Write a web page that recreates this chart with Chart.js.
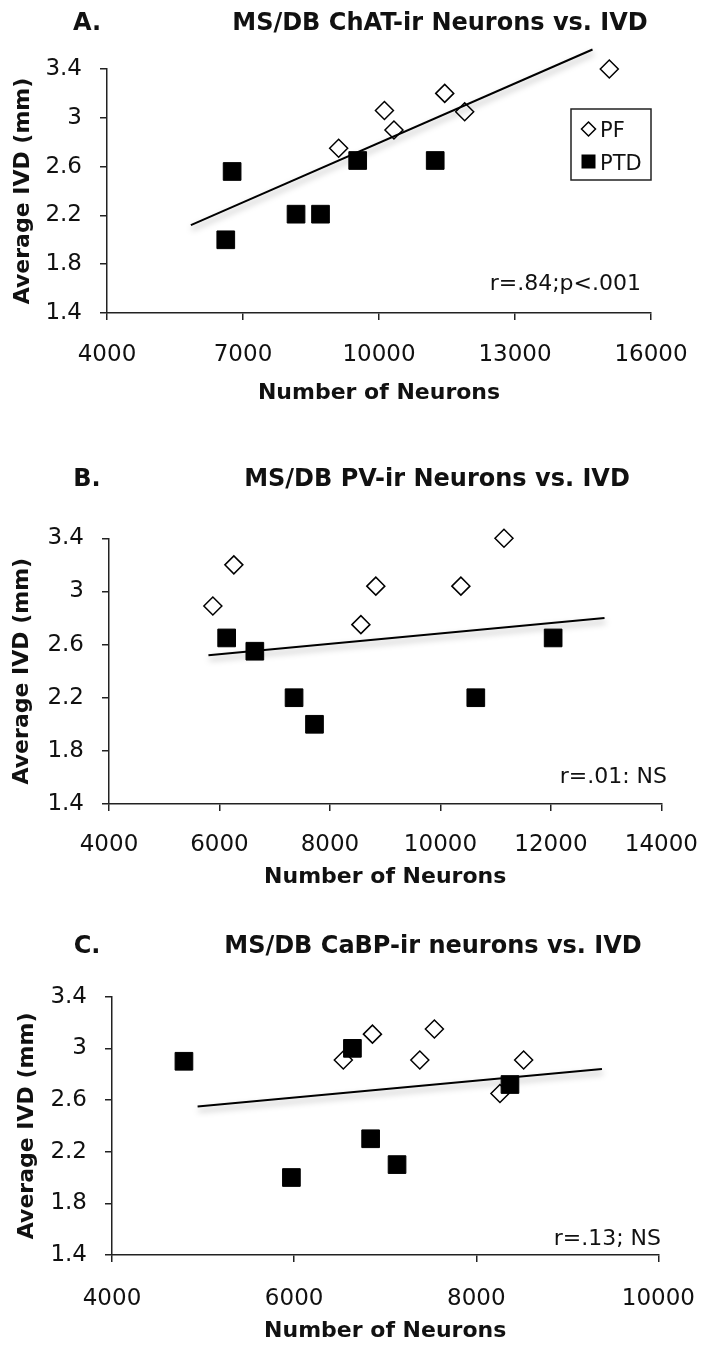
<!DOCTYPE html>
<html>
<head>
<meta charset="utf-8">
<title>MS/DB neurons vs. IVD</title>
<script src="https://cdn.jsdelivr.net/npm/chart.js@4.4.1/dist/chart.umd.min.js"></script>
<style>
  html, body { margin: 0; padding: 0; background: #fff; }
  #wrap { position: relative; width: 718px; height: 1347px; }
  .panel { position: absolute; left: 0; width: 718px; }
</style>
</head>
<body>
<div id="wrap">
  <div class="panel" style="top:0"><canvas id="chartA" width="718" height="460"></canvas></div>
  <div class="panel" style="top:460px"><canvas id="chartB" width="718" height="460"></canvas></div>
  <div class="panel" style="top:920px"><canvas id="chartC" width="718" height="427"></canvas></div>
</div>
<script>
// values
const yTicks = [1.4, 1.8, 2.2, 2.6, 3, 3.4];

// A. ChAT-ir
const chatTicks = [4000, 7000, 10000, 13000, 16000];
const chatPfX = [9110, 10120, 10330, 11450, 11890, 15080];
const chatPfY = [2.75, 3.06, 2.90, 3.20, 3.05, 3.40];
const chatPtdX = [6620, 6760, 8170, 8710, 9530, 11240];
const chatPtdY = [2.00, 2.56, 2.21, 2.21, 2.65, 2.65];
const chatTrendX = [5850, 14710];
const chatTrendY = [2.12, 3.56];

// B. PV-ir
const pvTicks = [4000, 6000, 8000, 10000, 12000, 14000];
const pvPfX = [5880, 6260, 8560, 8830, 10370, 11150];
const pvPfY = [2.89, 3.20, 2.75, 3.04, 3.04, 3.40];
const pvPtdX = [6130, 6640, 7350, 7720, 10640, 12040];
const pvPtdY = [2.65, 2.55, 2.20, 2.00, 2.20, 2.65];
const pvTrendX = [5800, 12970];
const pvTrendY = [2.52, 2.80];

// C. CaBP-ir
const cabpTicks = [4000, 6000, 8000, 10000];
const cabpPfX = [6540, 6860, 7380, 7540, 8520, 8260];
const cabpPfY = [2.91, 3.11, 2.91, 3.15, 2.91, 2.65];
const cabpPtdX = [4790, 6640, 8370, 6840, 7130, 5970];
const cabpPtdY = [2.90, 3.00, 2.72, 2.30, 2.10, 2.00];
const cabpTrendX = [4940, 9380];
const cabpTrendY = [2.55, 2.84];

const FONT = '"DejaVu Sans", Verdana, sans-serif';
const INK = '#111';
const AXIS = '#222';

function pts(xs, ys) {
    return xs.map((x, i) => ({ x: x, y: ys[i] }));
}

// soft grey shadow under the trend line (dataset 0)
const trendShadow = {
    id: 'trendShadow',
    beforeDatasetDraw(chart, args) {
        if (args.index !== 0) return;
        const ctx = chart.ctx;
        ctx.save();
        ctx.shadowColor = 'rgba(0,0,0,0.35)';
        ctx.shadowBlur = 6;
        ctx.shadowOffsetX = 1;
        ctx.shadowOffsetY = 4;
    },
    afterDatasetDraw(chart, args) {
        if (args.index !== 0) return;
        chart.ctx.restore();
    }
};

// panel letter, title, r/p note and (panel A only) the boxed legend
const panelText = {
    id: 'panelText',
    afterDraw(chart, args, o) {
        const ctx = chart.ctx;
        ctx.save();
        ctx.fillStyle = INK;
        ctx.font = 'bold 24px ' + FONT;
        ctx.textBaseline = 'alphabetic';
        ctx.textAlign = 'center';
        ctx.fillText(o.letter, 87, o.titleY);
        ctx.fillText(o.title, o.titleX, o.titleY);

        ctx.font = '22px ' + FONT;
        ctx.textAlign = 'right';
        ctx.fillText(o.note, o.noteX, o.noteY);

        if (o.legend) {
            const lg = o.legend;
            ctx.strokeStyle = AXIS;
            ctx.lineWidth = 1.5;
            ctx.strokeRect(lg.x, lg.y, lg.w, lg.h);
            // PF diamond
            const dx = lg.x + 17.5, dy = lg.y + 20;
            ctx.beginPath();
            ctx.moveTo(dx, dy - 7); ctx.lineTo(dx + 7, dy); ctx.lineTo(dx, dy + 7); ctx.lineTo(dx - 7, dy);
            ctx.closePath();
            ctx.fillStyle = '#fff'; ctx.fill();
            ctx.strokeStyle = '#000'; ctx.lineWidth = 1.5; ctx.stroke();
            // PTD square
            ctx.fillStyle = '#000';
            ctx.fillRect(dx - 7, lg.y + 45.5, 14, 14);
            ctx.fillStyle = INK;
            ctx.font = '21px ' + FONT;
            ctx.textAlign = 'left';
            ctx.fillText('PF', lg.x + 29, lg.y + 28);
            ctx.fillText('PTD', lg.x + 29, lg.y + 61);
        }
        ctx.restore();
    }
};

function makePanel(id, p) {
    return new Chart(document.getElementById(id), {
        type: 'scatter',
        data: {
            datasets: [{
                label: 'trend',
                data: pts(p.trendX, p.trendY),
                showLine: true,
                borderColor: '#000',
                borderWidth: 2,
                pointRadius: 0,
                fill: false,
                clip: false
            }, {
                label: 'PTD',
                data: pts(p.ptdX, p.ptdY),
                pointStyle: 'rect',
                pointRadius: 12.5,
                backgroundColor: '#000',
                borderColor: '#000',
                borderWidth: 1,
                clip: false
            }, {
                label: 'PF',
                data: pts(p.pfX, p.pfY),
                pointStyle: 'rectRot',
                pointRadius: 9,
                backgroundColor: '#fff',
                borderColor: '#000',
                borderWidth: 1.5,
                clip: false
            }]
        },
        options: {
            responsive: false,
            animation: false,
            events: [],
            layout: { padding: p.pad },
            scales: {
                x: {
                    type: 'linear',
                    min: p.xTicks[0],
                    max: p.xTicks[p.xTicks.length - 1],
                    afterBuildTicks: s => { s.ticks = p.xTicks.map(v => ({ value: v })); },
                    afterFit: s => { s.height = p.xHeight; },
                    border: { display: true, color: AXIS, width: 1.5 },
                    grid: { drawOnChartArea: false, drawTicks: true, tickLength: 7, color: AXIS, lineWidth: 1.5 },
                    ticks: {
                        color: INK, padding: p.xTickPad, maxRotation: 0, autoSkip: false,
                        font: { family: FONT, size: 23 },
                        callback: v => String(v)
                    },
                    title: {
                        display: true, text: 'Number of Neurons', color: INK,
                        font: { family: FONT, size: 22, weight: 'bold' },
                        padding: { top: 0, bottom: 0 }
                    }
                },
                y: {
                    type: 'linear',
                    min: 1.4,
                    max: 3.4,
                    afterBuildTicks: s => { s.ticks = yTicks.map(v => ({ value: v })); },
                    afterFit: s => { s.width = p.yWidth; },
                    border: { display: true, color: AXIS, width: 1.5 },
                    grid: { drawOnChartArea: false, drawTicks: true, tickLength: 7, color: AXIS, lineWidth: 1.5 },
                    ticks: {
                        color: INK, padding: 18,
                        font: { family: FONT, size: 23 },
                        callback: v => String(Number(v.toFixed(1)))
                    },
                    title: {
                        display: true, text: 'Average IVD (mm)', color: INK,
                        font: { family: FONT, size: 22, weight: 'bold' },
                        padding: { top: p.yTitlePad, bottom: 0 }
                    }
                }
            },
            plugins: {
                legend: { display: false },
                tooltip: { enabled: false },
                panelText: p.text
            }
        },
        plugins: [trendShadow, panelText]
    });
}

makePanel('chartA', {
    pfX: chatPfX, pfY: chatPfY, ptdX: chatPtdX, ptdY: chatPtdY,
    trendX: chatTrendX, trendY: chatTrendY, xTicks: chatTicks,
    pad: { top: 69, right: 67, left: 0, bottom: 53.4 },
    xHeight: 93.6, xTickPad: 21, yWidth: 107, yTitlePad: 10.4,
    text: {
        letter: 'A.', title: 'MS/DB ChAT-ir Neurons vs. IVD', titleX: 440, titleY: 30,
        note: 'r=.84;p<.001', noteX: 641, noteY: 290,
        legend: { x: 571, y: 109, w: 80, h: 71 }
    }
});

makePanel('chartB', {
    pfX: pvPfX, pfY: pvPfY, ptdX: pvPtdX, ptdY: pvPtdY,
    trendX: pvTrendX, trendY: pvTrendY, xTicks: pvTicks,
    pad: { top: 78.3, right: 43, left: 0, bottom: 29.4 },
    xHeight: 86.6, xTickPad: 20, yWidth: 109, yTitlePad: 9.4,
    text: {
        letter: 'B.', title: 'MS/DB PV-ir Neurons vs. IVD', titleX: 437, titleY: 26,
        note: 'r=.01: NS', noteX: 667, noteY: 323
    }
});

makePanel('chartC', {
    pfX: cabpPfX, pfY: cabpPfY, ptdX: cabpPtdX, ptdY: cabpPtdY,
    trendX: cabpTrendX, trendY: cabpTrendY, xTicks: cabpTicks,
    pad: { top: 76.7, right: 50, left: 0, bottom: 2.4 },
    xHeight: 89.6, xTickPad: 23, yWidth: 112, yTitlePad: 14.4,
    text: {
        letter: 'C.', title: 'MS/DB CaBP-ir neurons vs. IVD', titleX: 433, titleY: 33,
        note: 'r=.13; NS', noteX: 661, noteY: 325
    }
});
</script>
</body>
</html>
